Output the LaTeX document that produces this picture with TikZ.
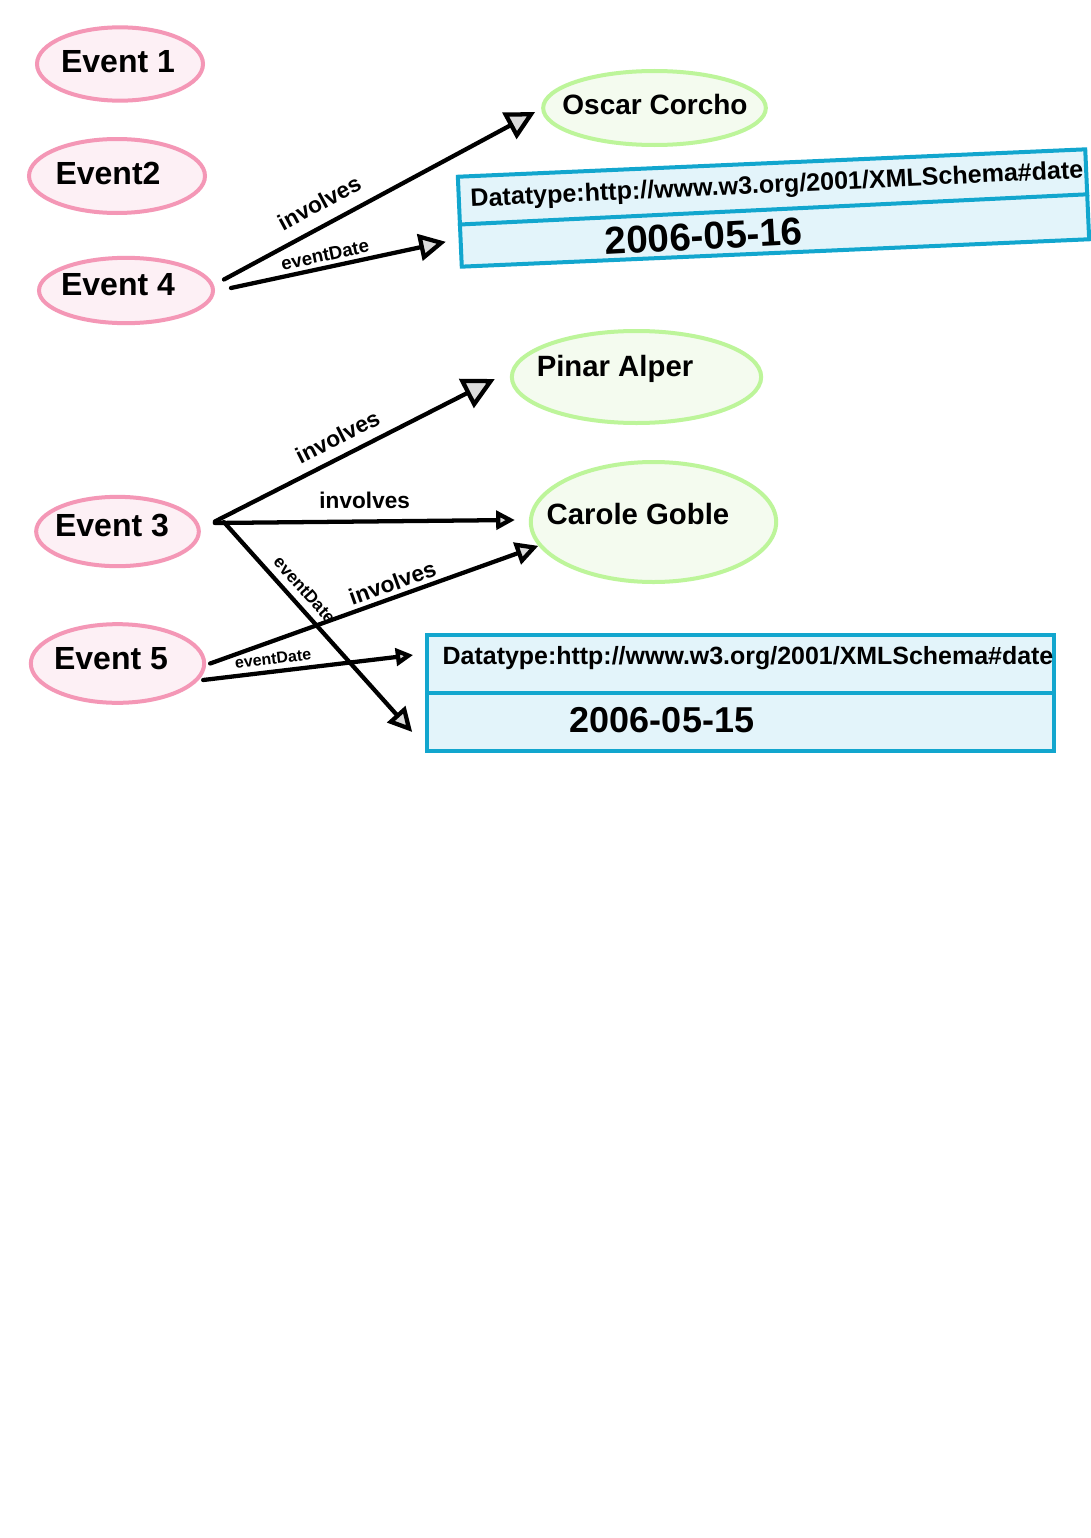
\documentclass[tikz,border=0pt]{standalone}
\usepackage{fontspec}
\setmainfont{Liberation Sans}
\usetikzlibrary{arrows.meta,shapes.geometric,calc}
\definecolor{pinkline}{HTML}{F497B6}
\definecolor{pinkfill}{HTML}{FDF0F5}
\definecolor{greenline}{HTML}{BDF59A}
\definecolor{greenfill}{HTML}{F4FBEF}
\definecolor{blueline}{HTML}{12A6CE}
\definecolor{bluefill}{HTML}{E3F4FA}
\definecolor{tipgray}{HTML}{DCDCDC}
\newcommand{\fsz}[1]{\fontsize{#1}{#1}\selectfont\bfseries}
\begin{document}
\begin{tikzpicture}[x=0.75pt,y=-0.75pt,
  event/.style={ellipse, draw=pinkline, fill=pinkfill, line width=3pt, inner sep=0pt},
  person/.style={ellipse, draw=greenline, fill=greenfill, line width=3pt, inner sep=0pt},
  litbox/.style={rectangle, draw=blueline, fill=bluefill, line width=3pt, inner sep=0pt},
  divline/.style={draw=blueline, line width=3pt},
  ntext/.style={inner sep=0pt, font=\fsz{#1}},
  rel/.style={draw=black, line width=3.2pt, line cap=round},
  elabel/.style={inner sep=0pt, font=\fsz{#1}},
  tipA/.style={-{Triangle[length=#1, width=#1, fill=tipgray, line join=miter]}}
]
\useasboundingbox (0,0) rectangle (1091,1538);
\fill[white] (0,0) rectangle (1091,1538);

% Event nodes
\node[event, minimum width=124.5pt, minimum height=55pt] (e1) at (120,64) {};
\node[ntext=24] (e1t) at (118,62) {Event 1};
\node[event, minimum width=132pt, minimum height=55.5pt] (e2) at (117,176) {};
\node[ntext=24] (e2t) at (108,173) {Event2};
\node[event, minimum width=130.5pt, minimum height=49pt] (e4) at (126,290.5) {};
\node[ntext=24] (e4t) at (118,285) {Event 4};
\node[event, minimum width=122pt, minimum height=52pt] (e3) at (117.5,531.5) {};
\node[ntext=24] (e3t) at (112,526) {Event 3};
\node[event, minimum width=130pt, minimum height=59pt] (e5) at (117.5,663.5) {};
\node[ntext=24] (e5t) at (111,659) {Event 5};

% Person nodes
\node[person, minimum width=167pt, minimum height=55.5pt] (oscar) at (654.5,108) {};
\node[ntext=21] (oscart) at (655,104) {Oscar Corcho};
\node[person, minimum width=187pt, minimum height=69pt] (pinar) at (636.5,377) {};
\node[ntext=22] (pinart) at (615,369) {Pinar Alper};
\node[person, minimum width=184pt, minimum height=90pt] (carole) at (653.5,522) {};
\node[ntext=22] (carolet) at (638,514) {Carole Goble};

% Literal boxes
\node[litbox, rotate=2.5, minimum width=471pt, minimum height=67.5pt] (box1) at (773.5,208) {};
\draw[divline] ($(box1.north west)!0.53!(box1.south west)$) coordinate (b1l) -- ($(box1.north east)!0.5!(box1.south east)$) coordinate (b1r);
\node[inner sep=0pt, rotate=2.7] (b1type) at (777,186) {\resizebox{460pt}{!}{\bfseries Datatype:http://www.w3.org/2001/XMLSchema\#date}};
\node[ntext=29, rotate=3] (b1val) at (704,236) {2006-05-16};

\node[litbox, minimum width=470pt, minimum height=87pt] (box2) at (740.5,693) {};
\draw[divline] ($(box2.north west)!0.5!(box2.south west)$) coordinate (b2l) -- ($(box2.north east)!0.5!(box2.south east)$) coordinate (b2r);
\node[inner sep=0pt] (b2type) at (748,658) {\resizebox{458pt}{!}{\bfseries Datatype:http://www.w3.org/2001/XMLSchema\#date}};
\node[ntext=27] (b2val) at (662,720) {2006-05-15};

% Connectors from Event 4
\draw[rel, tipA=22pt] ($(e4.east)+(9,-11)$) -- ($(oscar.west)+(-6,4)$)
  node[elabel=17, pos=0.34, sloped, above=9pt] (l1) {involves};
\draw[rel, tipA=20pt] ($(e4.east)+(16,-2.5)$) -- ($(box1.west)+(-12,20)$)
  node[elabel=14, pos=0.45, sloped, above=3pt] (l2) {eventDate};

% Connectors from Event 3
\draw[rel, tipA=24pt] ($(e3.east)+(14,-10)$) -- ($(pinar.west)+(-15,2)$)
  node[elabel=17, pos=0.47, sloped, above=7pt] (l3) {involves};
\draw[rel, tipA=14pt] ($(e3.east)+(14,-8.5)$) -- ($(carole.west)+(-14,-2)$)
  node[elabel=17, pos=0.5, sloped, above=8pt] (l4) {involves};
\draw[rel, tipA=18pt] ($(e3.east)+(23,-9.5)$) -- ($(box2.south west)+(-13,-21)$)
  node[elabel=13, pos=0.37, sloped, above=5pt] (l5) {eventDate};

% Connectors from Event 5
\draw[rel, tipA=17pt] ($(e5.east)+(4,0)$) -- ($(carole.south west)+(-27,-20)$)
  node[elabel=17, pos=0.57, sloped, above=3pt] (l6) {involves};
\draw[rel, tipA=13pt] ($(e5.east)+(-3,16.5)$) -- ($(box2.north west)+(-12,22)$)
  node[elabel=12, pos=0.34, sloped, above=4pt] (l7) {eventDate};
\end{tikzpicture}
\end{document}
